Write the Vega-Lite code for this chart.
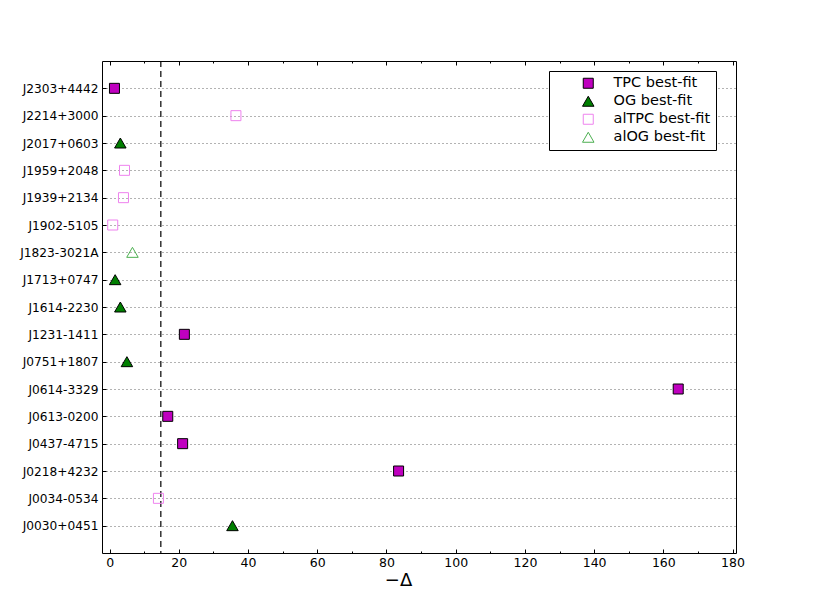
{
  "$schema": "https://vega.github.io/schema/vega-lite/v6.json",
  "width": 634,
  "height": 492,
  "autosize": {"type": "none"},
  "padding": {"left": 102, "top": 61, "right": 81, "bottom": 62},
  "background": "white",
  "config": {
    "font": "DejaVu Sans",
    "view": {"stroke": "black", "strokeWidth": 1},
    "axis": {"domain": false, "labelColor": "black", "tickColor": "black", "titleColor": "black", "titleFontWeight": "normal"},
    "legend": {
      "orient": "none", "legendX": 447, "legendY": 10,
      "strokeColor": "black", "fillColor": "white", "padding": 5,
      "labelFontSize": 14.5, "labelFont": "DejaVu Sans", "labelColor": "black",
      "symbolSize": 100, "rowPadding": 2, "symbolOffset": 27, "labelOffset": 18,
      "symbolStrokeWidth": 1
    }
  },
  "resolve": {"axis": {"x": "independent"}},
  "layer": [
    {
      "data": {"values": [{"threshold": 14.8}]},
      "mark": {"type": "rule", "color": "black", "strokeWidth": 1.2, "strokeDash": [6, 4]},
      "encoding": {
        "x": {
          "field": "threshold", "type": "quantitative",
          "scale": {"domain": [-2.2, 181], "nice": false, "zero": false},
          "axis": {
            "orient": "top", "labels": false, "title": null, "grid": false,
            "values": [0, 10, 20, 30, 40, 50, 60, 70, 80, 90, 100, 110, 120, 130, 140, 150, 160, 170, 180],
            "tickSize": {"condition": {"test": "datum.value % 20 === 0", "value": -4}, "value": -2}
          }
        }
      }
    },
    {
      "data": {"values": [
        {"pulsar": "J2303+4442", "value": 1.4, "type": "TPC best-fit"},
        {"pulsar": "J2214+3000", "value": 36.5, "type": "alTPC best-fit"},
        {"pulsar": "J2017+0603", "value": 3.1, "type": "OG best-fit"},
        {"pulsar": "J1959+2048", "value": 4.3, "type": "alTPC best-fit"},
        {"pulsar": "J1939+2134", "value": 4.0, "type": "alTPC best-fit"},
        {"pulsar": "J1902-5105", "value": 0.9, "type": "alTPC best-fit"},
        {"pulsar": "J1823-3021A", "value": 6.6, "type": "alOG best-fit"},
        {"pulsar": "J1713+0747", "value": 1.6, "type": "OG best-fit"},
        {"pulsar": "J1614-2230", "value": 3.1, "type": "OG best-fit"},
        {"pulsar": "J1231-1411", "value": 21.6, "type": "TPC best-fit"},
        {"pulsar": "J0751+1807", "value": 5.0, "type": "OG best-fit"},
        {"pulsar": "J0614-3329", "value": 164.3, "type": "TPC best-fit"},
        {"pulsar": "J0613-0200", "value": 16.8, "type": "TPC best-fit"},
        {"pulsar": "J0437-4715", "value": 21.1, "type": "TPC best-fit"},
        {"pulsar": "J0218+4232", "value": 83.5, "type": "TPC best-fit"},
        {"pulsar": "J0034-0534", "value": 14.1, "type": "alTPC best-fit"},
        {"pulsar": "J0030+0451", "value": 35.5, "type": "OG best-fit"}
      ]},
      "mark": {"type": "point", "filled": true, "opacity": 1, "strokeWidth": 1, "size": 100},
      "encoding": {
        "x": {
          "field": "value", "type": "quantitative",
          "scale": {"domain": [-2.2, 181], "nice": false, "zero": false},
          "axis": {
            "orient": "bottom", "grid": false, "title": "−Δ",
            "titleFontSize": 18, "titleX": 296, "titleY": 32, "titleBaseline": "alphabetic", "titleAlign": "center",
            "values": [0, 10, 20, 30, 40, 50, 60, 70, 80, 90, 100, 110, 120, 130, 140, 150, 160, 170, 180],
            "labelExpr": "datum.value % 20 === 0 ? datum.label : ''",
            "labelFontSize": 12.5, "labelPadding": 7, "labelFlush": false, "labelOverlap": false,
            "tickSize": {"condition": {"test": "datum.value % 20 === 0", "value": -4}, "value": -2}
          }
        },
        "y": {
          "field": "pulsar", "type": "nominal",
          "scale": {"type": "point", "padding": 1, "domain": ["J2303+4442", "J2214+3000", "J2017+0603", "J1959+2048", "J1939+2134", "J1902-5105", "J1823-3021A", "J1713+0747", "J1614-2230", "J1231-1411", "J0751+1807", "J0614-3329", "J0613-0200", "J0437-4715", "J0218+4232", "J0034-0534", "J0030+0451"]},
          "axis": {
            "title": null, "labelFontSize": 12.2, "labelPadding": 8, "tickSize": -4,
            "grid": true, "gridColor": "#000000", "gridDash": [1, 3], "gridOpacity": 0.6, "gridWidth": 1
          }
        },
        "shape": {
          "field": "type", "type": "nominal", "title": null,
          "scale": {"domain": ["TPC best-fit", "OG best-fit", "alTPC best-fit", "alOG best-fit"], "range": ["square", "M-1.15,1L1.15,1L0,-1Z", "square", "M-1.15,1L1.15,1L0,-1Z"]}
        },
        "fill": {
          "field": "type", "type": "nominal", "title": null,
          "scale": {"domain": ["TPC best-fit", "OG best-fit", "alTPC best-fit", "alOG best-fit"], "range": ["#bf00bf", "#007f00", "transparent", "transparent"]}
        },
        "stroke": {
          "field": "type", "type": "nominal", "title": null,
          "scale": {"domain": ["TPC best-fit", "OG best-fit", "alTPC best-fit", "alOG best-fit"], "range": ["#000000", "#000000", "#ee82ee", "#4caf50"]}
        }
      }
    }
  ]
}
